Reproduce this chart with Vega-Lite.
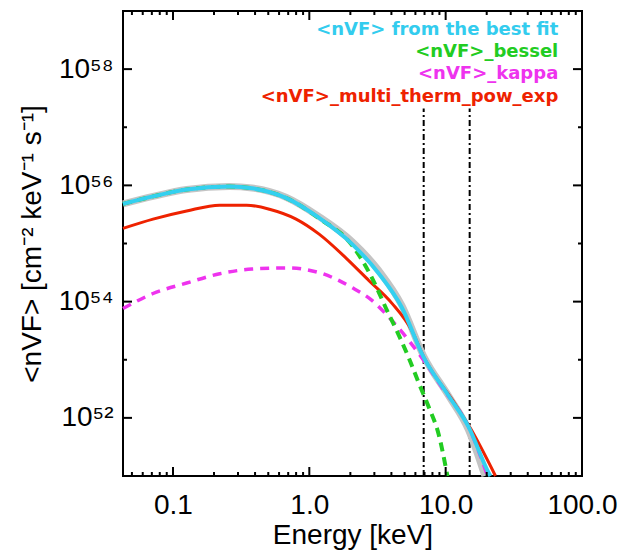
{
  "$schema": "https://vega.github.io/schema/vega-lite/v6.json",
  "autosize": "none",
  "width": 459,
  "height": 465,
  "padding": {"left": 123, "top": 11, "right": 39, "bottom": 75},
  "background": "white",
  "config": {
    "view": {"stroke": "black", "strokeWidth": 2},
    "axis": {
      "domain": false, "grid": false, "ticks": false,
      "labelFont": "Liberation Sans", "labelFontSize": 28, "labelColor": "black",
      "titleFont": "Liberation Sans", "titleFontSize": 28, "titleFontWeight": "normal", "titleColor": "black",
      "labelOverlap": false, "labelBound": false, "labelFlush": false
    }
  },
  "datasets": {
    "gray": [
      {"E": 0.043, "nVF": 4.79e55}, {"E": 0.0714, "nVF": 6.46e55}, {"E": 0.126, "nVF": 8.51e55},
      {"E": 0.26, "nVF": 9.55e55}, {"E": 0.38, "nVF": 9.0e55}, {"E": 0.68, "nVF": 6.2e55},
      {"E": 1.18, "nVF": 2.9e55}, {"E": 2.06, "nVF": 1.08e55}, {"E": 3.24, "nVF": 3.4e54},
      {"E": 4.77, "nVF": 8.6e53}, {"E": 6.9, "nVF": 1.15e53},
      {"E": 10.5, "nVF": 2.4e52}, {"E": 14.7, "nVF": 6.2e51}, {"E": 19.4, "nVF": 1.0e51}
    ],
    "bestfit": [
      {"E": 0.043, "nVF": 4.79e55}, {"E": 0.0714, "nVF": 6.46e55}, {"E": 0.126, "nVF": 8.51e55},
      {"E": 0.26, "nVF": 9.55e55}, {"E": 0.38, "nVF": 8.91e55}, {"E": 0.68, "nVF": 6.03e55},
      {"E": 1.18, "nVF": 2.75e55}, {"E": 2.06, "nVF": 9.77e54}, {"E": 3.24, "nVF": 3.02e54},
      {"E": 4.77, "nVF": 7.94e53}, {"E": 6.9, "nVF": 1.1e53},
      {"E": 10.5, "nVF": 2.4e52}, {"E": 14.7, "nVF": 7.08e51}, {"E": 20.6, "nVF": 1.15e51},
      {"E": 21.3, "nVF": 1.0e51}
    ],
    "bessel": [
      {"E": 0.043, "nVF": 4.79e55}, {"E": 0.0714, "nVF": 6.46e55}, {"E": 0.126, "nVF": 8.51e55},
      {"E": 0.26, "nVF": 9.55e55}, {"E": 0.38, "nVF": 8.91e55}, {"E": 0.68, "nVF": 6.03e55},
      {"E": 1.18, "nVF": 2.7e55}, {"E": 2.06, "nVF": 9.3e54}, {"E": 2.88, "nVF": 2.57e54},
      {"E": 3.71, "nVF": 7.08e53}, {"E": 4.54, "nVF": 2.63e53}, {"E": 5.37, "nVF": 1.07e53},
      {"E": 6.35, "nVF": 3.98e52}, {"E": 7.5, "nVF": 1.55e52}, {"E": 8.9, "nVF": 5.13e51},
      {"E": 10.3, "nVF": 1.0e51}
    ],
    "kappa": [
      {"E": 0.043, "nVF": 7.59e53}, {"E": 0.0714, "nVF": 1.38e54}, {"E": 0.126, "nVF": 2.09e54},
      {"E": 0.22, "nVF": 3.02e54}, {"E": 0.38, "nVF": 3.63e54}, {"E": 0.68, "nVF": 3.8e54},
      {"E": 1.18, "nVF": 3.16e54}, {"E": 2.06, "nVF": 1.74e54}, {"E": 2.88, "nVF": 1.05e54},
      {"E": 3.84, "nVF": 5.37e53}, {"E": 5.37, "nVF": 2.14e53}, {"E": 7.14, "nVF": 8.71e52},
      {"E": 9.35, "nVF": 3.39e52}, {"E": 14.7, "nVF": 7.08e51}, {"E": 20.3, "nVF": 1.0e51}
    ],
    "multi": [
      {"E": 0.043, "nVF": 1.82e55}, {"E": 0.0714, "nVF": 2.63e55}, {"E": 0.126, "nVF": 3.63e55},
      {"E": 0.22, "nVF": 4.57e55}, {"E": 0.347, "nVF": 4.57e55}, {"E": 0.51, "nVF": 3.89e55},
      {"E": 0.8, "nVF": 2.63e55}, {"E": 1.18, "nVF": 1.45e55}, {"E": 1.86, "nVF": 5.62e54},
      {"E": 2.74, "nVF": 2.29e54}, {"E": 4.04, "nVF": 9.33e53}, {"E": 5.65, "nVF": 3.16e53},
      {"E": 6.9, "nVF": 1.12e53}, {"E": 11.8, "nVF": 1.7e52}, {"E": 15.2, "nVF": 6.6e51},
      {"E": 23.2, "nVF": 1.0e51}
    ],
    "lines": [
      {"E": 6.9, "lo": 1e51, "hi": 2.1e57},
      {"E": 15.0, "lo": 1e51, "hi": 2.1e57}
    ],
    "xticks": [
      {"E": 0.05, "kind": "minor"}, {"E": 0.06, "kind": "minor"}, {"E": 0.07, "kind": "minor"}, {"E": 0.08, "kind": "minor"}, {"E": 0.09, "kind": "minor"},
      {"E": 0.1, "kind": "major"},
      {"E": 0.2, "kind": "minor"}, {"E": 0.3, "kind": "minor"}, {"E": 0.4, "kind": "minor"}, {"E": 0.5, "kind": "minor"}, {"E": 0.6, "kind": "minor"}, {"E": 0.7, "kind": "minor"}, {"E": 0.8, "kind": "minor"}, {"E": 0.9, "kind": "minor"},
      {"E": 1, "kind": "major"},
      {"E": 2, "kind": "minor"}, {"E": 3, "kind": "minor"}, {"E": 4, "kind": "minor"}, {"E": 5, "kind": "minor"}, {"E": 6, "kind": "minor"}, {"E": 7, "kind": "minor"}, {"E": 8, "kind": "minor"}, {"E": 9, "kind": "minor"},
      {"E": 10, "kind": "major"},
      {"E": 20, "kind": "minor"}, {"E": 30, "kind": "minor"}, {"E": 40, "kind": "minor"}, {"E": 50, "kind": "minor"}, {"E": 60, "kind": "minor"}, {"E": 70, "kind": "minor"}, {"E": 80, "kind": "minor"}, {"E": 90, "kind": "minor"}
    ],
    "yticks": [
      {"v": 1e52, "kind": "major"}, {"v": 1e53, "kind": "minor"}, {"v": 1e54, "kind": "major"}, {"v": 1e55, "kind": "minor"},
      {"v": 1e56, "kind": "major"}, {"v": 1e57, "kind": "minor"}, {"v": 1e58, "kind": "major"}
    ],
    "labels": [
      {"E": 67, "nVF": 4.8e58, "text": "<nVF> from the best fit", "col": "cyan"},
      {"E": 67, "nVF": 1.95e58, "text": "<nVF>_bessel", "col": "green"},
      {"E": 67, "nVF": 8.1e57, "text": "<nVF>_kappa", "col": "magenta"},
      {"E": 67, "nVF": 3.3e57, "text": "<nVF>_multi_therm_pow_exp", "col": "red"}
    ]
  },
  "layer": [
    {
      "data": {"name": "lines"},
      "mark": {"type": "rule", "color": "black", "strokeWidth": 2, "strokeDash": [6, 3, 2, 3]},
      "encoding": {
        "x": {
          "field": "E", "type": "quantitative",
          "scale": {"type": "log", "domain": [0.043, 100], "nice": false},
          "axis": {
            "orient": "bottom", "title": "Energy [keV]",
            "values": [0.1, 1, 10, 100], "format": ".1f",
            "labelPadding": 15, "titlePadding": 2
          }
        },
        "y": {
          "field": "lo", "type": "quantitative",
          "scale": {"type": "log", "domain": [1e51, 1e59], "nice": false},
          "axis": {
            "orient": "left", "title": "<nVF> [cm⁻² keV⁻¹ s⁻¹]",
            "values": [1e52, 1e54, 1e56, 1e58],
            "labelExpr": "datum.value == 1e52 ? '10⁵²' : datum.value == 1e54 ? '10⁵⁴' : datum.value == 1e56 ? '10⁵⁶' : '10⁵⁸'",
            "labelPadding": 10, "titlePadding": 12
          }
        },
        "y2": {"field": "hi"}
      }
    },
    {
      "data": {"name": "gray"},
      "mark": {"type": "line", "color": "#c4c4c4", "strokeWidth": 7, "interpolate": "monotone"},
      "encoding": {
        "x": {"field": "E", "type": "quantitative"},
        "y": {"field": "nVF", "type": "quantitative"}
      }
    },
    {
      "data": {"name": "kappa"},
      "mark": {"type": "line", "color": "#ee33ee", "strokeWidth": 3.5, "strokeDash": [9, 7], "interpolate": "monotone"},
      "encoding": {
        "x": {"field": "E", "type": "quantitative"},
        "y": {"field": "nVF", "type": "quantitative"}
      }
    },
    {
      "data": {"name": "multi"},
      "mark": {"type": "line", "color": "#ee2200", "strokeWidth": 3, "interpolate": "monotone"},
      "encoding": {
        "x": {"field": "E", "type": "quantitative"},
        "y": {"field": "nVF", "type": "quantitative"}
      }
    },
    {
      "data": {"name": "bessel"},
      "mark": {"type": "line", "color": "#22cc22", "strokeWidth": 4, "strokeDash": [9, 6], "interpolate": "monotone"},
      "encoding": {
        "x": {"field": "E", "type": "quantitative"},
        "y": {"field": "nVF", "type": "quantitative"}
      }
    },
    {
      "data": {"name": "bestfit"},
      "mark": {"type": "line", "color": "#33d0f0", "strokeWidth": 4, "interpolate": "monotone"},
      "encoding": {
        "x": {"field": "E", "type": "quantitative"},
        "y": {"field": "nVF", "type": "quantitative"}
      }
    },
    {
      "data": {"name": "xticks"},
      "mark": {"type": "tick", "orient": "vertical", "color": "black", "opacity": 1, "thickness": 2, "clip": true},
      "encoding": {
        "x": {"field": "E", "type": "quantitative"},
        "y": {"datum": 1e51, "type": "quantitative"},
        "size": {"field": "kind", "type": "nominal", "legend": null, "scale": {"domain": ["major", "minor"], "range": [18, 8]}}
      }
    },
    {
      "data": {"name": "xticks"},
      "mark": {"type": "tick", "orient": "vertical", "color": "black", "opacity": 1, "thickness": 2, "clip": true},
      "encoding": {
        "x": {"field": "E", "type": "quantitative"},
        "y": {"datum": 1e59, "type": "quantitative"},
        "size": {"field": "kind", "type": "nominal", "legend": null, "scale": {"domain": ["major", "minor"], "range": [18, 8]}}
      }
    },
    {
      "data": {"name": "yticks"},
      "mark": {"type": "tick", "orient": "horizontal", "color": "black", "opacity": 1, "thickness": 2, "clip": true},
      "encoding": {
        "x": {"datum": 0.043, "type": "quantitative"},
        "y": {"field": "v", "type": "quantitative"},
        "size": {"field": "kind", "type": "nominal", "legend": null, "scale": {"domain": ["major", "minor"], "range": [20, 10]}}
      }
    },
    {
      "data": {"name": "yticks"},
      "mark": {"type": "tick", "orient": "horizontal", "color": "black", "opacity": 1, "thickness": 2, "clip": true},
      "encoding": {
        "x": {"datum": 100, "type": "quantitative"},
        "y": {"field": "v", "type": "quantitative"},
        "size": {"field": "kind", "type": "nominal", "legend": null, "scale": {"domain": ["major", "minor"], "range": [20, 10]}}
      }
    },
    {
      "data": {"name": "labels"},
      "mark": {"type": "text", "align": "right", "baseline": "middle", "font": "DejaVu Sans", "fontWeight": "bold", "fontSize": 18},
      "encoding": {
        "x": {"field": "E", "type": "quantitative"},
        "y": {"field": "nVF", "type": "quantitative"},
        "text": {"field": "text"},
        "color": {
          "field": "col", "type": "nominal", "legend": null,
          "scale": {"domain": ["cyan", "green", "magenta", "red"], "range": ["#33ccee", "#22cc22", "#ee33ee", "#ee2200"]}
        }
      }
    }
  ]
}
